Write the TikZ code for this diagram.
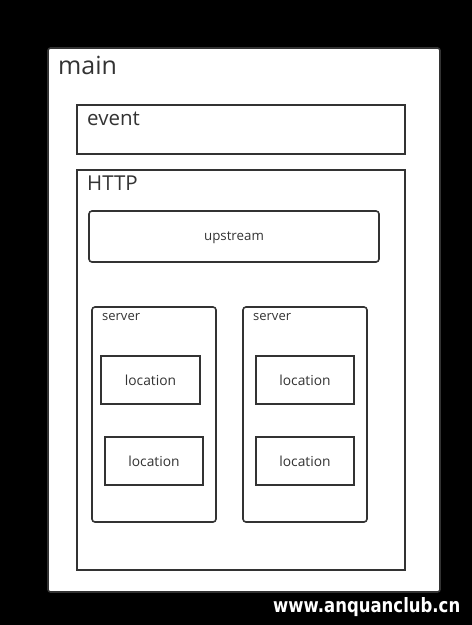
\documentclass[tikz,border=0pt]{standalone}
\usepackage{fontspec}
\setmainfont{Open Sans}
\newfontfamily\wmfont{DejaVu Sans}
\begin{document}
\begin{tikzpicture}[x=1pt,y=-1pt,
  box/.style={draw=black!80,line width=1.6pt,fill=white},
  rbox/.style={box,rounded corners=3pt},
  lbl/.style={anchor=base west,inner sep=0pt,text=black!80},
  loc/.style={inner sep=0pt,text=black!80,font=\fontsize{13.8}{15}\selectfont}]
\useasboundingbox[fill=black] (0,0) rectangle (472,625);
\draw[box,rounded corners=2.5pt] (48,48) rectangle (440,592);
\node[lbl,font=\fontsize{25}{28}\selectfont] (tmain) at (58,74) {main};
\draw[box] (77,105) rectangle (405,154);
\node[lbl,font=\fontsize{20.5}{22}\selectfont] (tevent) at (87,125) {event};
\draw[box] (77,170) rectangle (405,570);
\node[lbl,font=\fontsize{20.5}{22}\selectfont] (thttp) at (87,190) {HTTP};
\draw[rbox] (89,211) rectangle (379,262);
\node[loc,font=\fontsize{13.3}{15}\selectfont] (up) at (234,237.5) {upstream};
\draw[rbox] (92,307) rectangle (216,522);
\node[lbl,font=\fontsize{13}{14}\selectfont] (s1) at (102,320) {server};
\draw[rbox] (243,307) rectangle (367,522);
\node[lbl,font=\fontsize{13}{14}\selectfont] (s2) at (253,320) {server};
\draw[box] (101,356) rectangle (200,404);
\node[loc] (l1) at (150.5,380.5) {location};
\draw[box] (105,437) rectangle (203,485);
\node[loc] (l2) at (154,461.5) {location};
\draw[box] (256,356) rectangle (354,404);
\node[loc] (l3) at (305,380.5) {location};
\draw[box] (256,437) rectangle (354,485);
\node[loc] (l4) at (305,461.5) {location};
\node[anchor=base west,inner sep=0pt,text=white] (wm) at (273,612) {\resizebox{187pt}{15pt}{\wmfont\bfseries www.anquanclub.cn}};
\end{tikzpicture}
\end{document}
